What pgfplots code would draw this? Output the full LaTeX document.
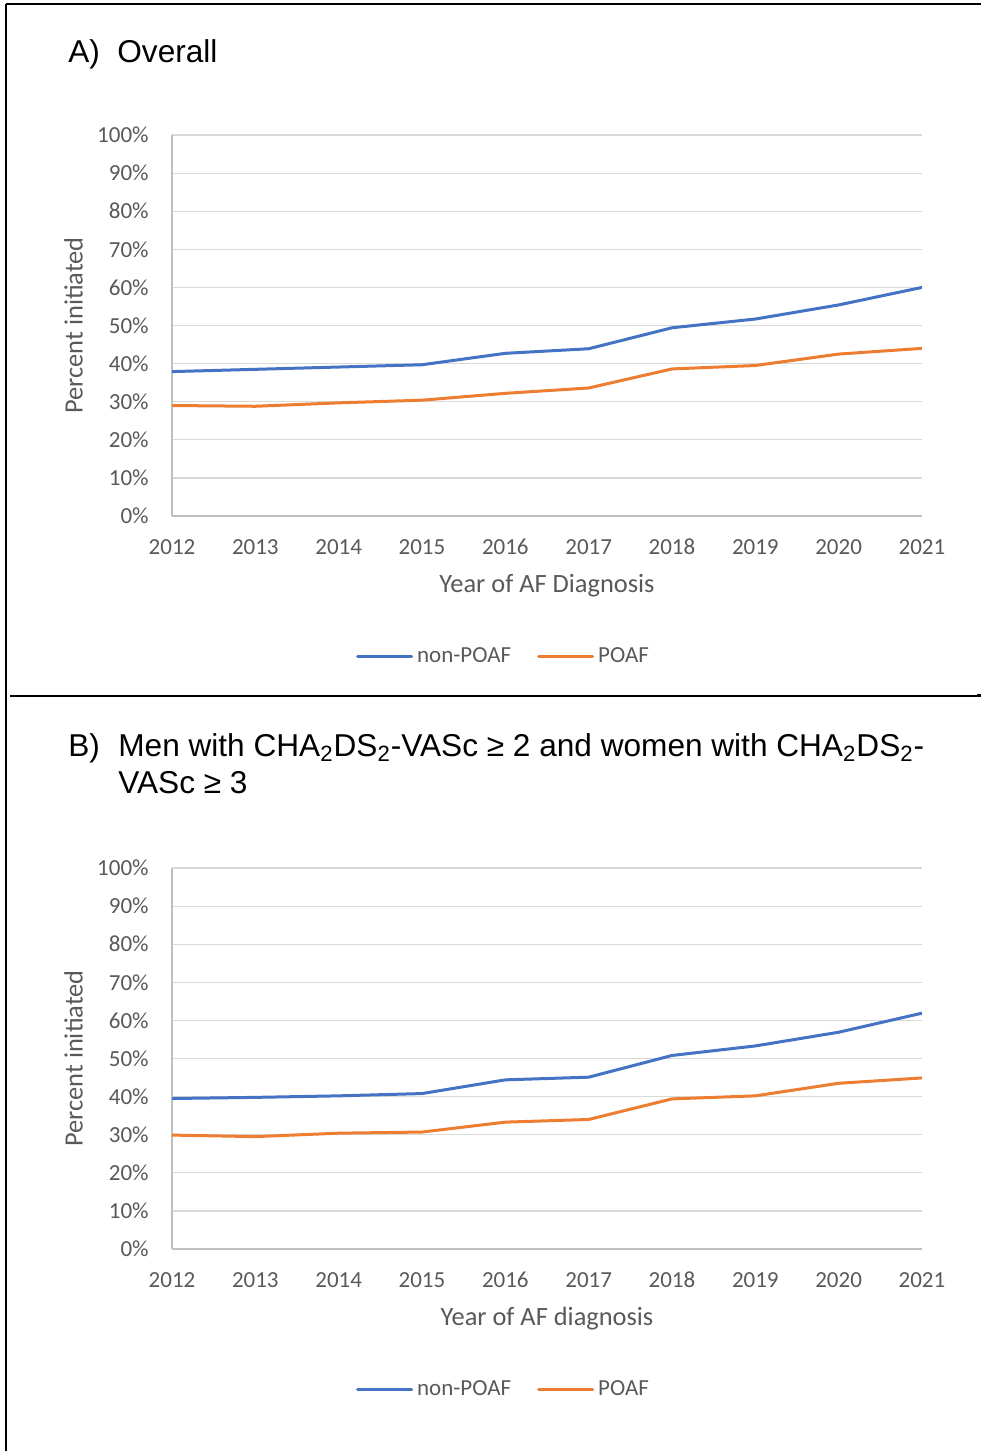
\documentclass[border=0pt]{standalone}
\usepackage{pgfplots}
\pgfplotsset{compat=1.18}
\usepackage{pgfplotstable}
\usepackage{fontspec}
\setmainfont{Carlito}
\newfontfamily\arialf{Liberation Sans}
\definecolor{cblue}{HTML}{4472C4}
\definecolor{corange}{HTML}{ED7D31}
\definecolor{tgray}{HTML}{595959}
\definecolor{ggray}{HTML}{D9D9D9}
\definecolor{agray}{HTML}{BFBFBF}

\pgfplotstableread{
year nonpoaf poaf
2012 37.9 29.0
2013 38.5 28.8
2014 39.1 29.7
2015 39.7 30.4
2016 42.7 32.2
2017 43.9 33.6
2018 49.4 38.6
2019 51.7 39.5
2020 55.4 42.5
2021 60.0 44.0
}\dataA

\pgfplotstableread{
year nonpoaf poaf
2012 39.5 29.9
2013 39.8 29.5
2014 40.2 30.4
2015 40.8 30.7
2016 44.4 33.3
2017 45.1 34.0
2018 50.8 39.4
2019 53.3 40.2
2020 56.9 43.5
2021 61.9 44.9
}\dataB

\pgfplotsset{
  myaxis/.style={
    scale only axis,
    width=375pt, height=190.5pt,
    anchor=south west,
    xmin=2012, xmax=2021,
    ymin=0, ymax=100,
    xtick={2012,2013,...,2021},
    xticklabels={2012,2013,2014,2015,2016,2017,2018,2019,2020,2021},
    ytick={0,10,...,100},
    yticklabels={0\%,10\%,20\%,30\%,40\%,50\%,60\%,70\%,80\%,90\%,100\%},
    /pgf/number format/assume math mode=true,
    axis x line*=bottom,
    axis y line*=left,
    axis line style={draw=agray, line width=0.6pt},
    major tick length=0pt,
    ymajorgrids,
    grid style={draw=ggray, line width=0.6pt},
    tick label style={font=\fontsize{11.5}{13}\selectfont, text=tgray, inner sep=0pt},
    xticklabel style={anchor=center, yshift=-15.5pt},
    yticklabel style={anchor=east, xshift=-11.5pt},
    every axis x label/.style={at={(axis description cs:0.5,-0.1837)}, anchor=center,
      font=\fontsize{13.2}{15}\selectfont, text=tgray},
    every axis y label/.style={at={(axis description cs:-0.1313,0.5)}, rotate=90, anchor=center,
      font=\fontsize{13.2}{15}\selectfont, text=tgray},
    ylabel={Percent initiated},
    legend columns=2,
    legend style={at={(axis description cs:0.4407,-0.370)}, anchor=center,
      draw=none, fill=none, inner sep=0pt,
      font=\fontsize{11.5}{13}\selectfont, text=tgray,
      nodes={inner sep=0pt},
      /tikz/every even column/.append style={column sep=13pt}},
    legend image code/.code={\draw[##1] (0pt,0pt) -- (27pt,0pt); \path (29pt,0pt);},
    every axis plot/.append style={line width=1.5pt, line join=round, line cap=round},
  }
}

\begin{document}
\begin{tikzpicture}
\useasboundingbox (0,0) rectangle (490.5pt,-725.5pt);
% borders
\draw[line width=1pt] (3.1pt,-1.85pt) -- (490.5pt,-1.85pt);
\draw[line width=1pt] (3.1pt,-1.85pt) -- (3.1pt,-725.5pt);
\draw[line width=1pt] (5pt,-348pt) -- (488.5pt,-348pt);
\draw[line width=1.6pt] (488.5pt,-347.8pt) -- (490.5pt,-347.8pt);

% titles
\node[anchor=base west, inner sep=0pt, font=\arialf\fontsize{15.8}{19}\selectfont] at (34pt,-31pt) {A)};
\node[anchor=base west, inner sep=0pt, font=\arialf\fontsize{15.8}{19}\selectfont] at (58.5pt,-31pt) {Overall};
\node[anchor=base west, inner sep=0pt, font=\arialf\fontsize{15.8}{19}\selectfont] at (34pt,-378pt) {B)};
\node[anchor=base west, inner sep=0pt, font=\arialf\fontsize{15.8}{19}\selectfont] at (59pt,-378pt) {Men with CHA\textsubscript{2}DS\textsubscript{2}-VASc ≥ 2 and women with CHA\textsubscript{2}DS\textsubscript{2}-};
\node[anchor=base west, inner sep=0pt, font=\arialf\fontsize{15.8}{19}\selectfont] at (59pt,-396.5pt) {VASc ≥ 3};

\begin{axis}[myaxis, at={(86pt,-258pt)}, xlabel={Year of AF Diagnosis}]
\addplot[cblue] table[x=year, y=nonpoaf] {\dataA};
\addlegendentry{non-POAF}
\addplot[corange] table[x=year, y=poaf] {\dataA};
\addlegendentry{POAF}
\end{axis}

\begin{axis}[myaxis, at={(86pt,-624.5pt)}, xlabel={Year of AF diagnosis}]
\addplot[cblue] table[x=year, y=nonpoaf] {\dataB};
\addlegendentry{non-POAF}
\addplot[corange] table[x=year, y=poaf] {\dataB};
\addlegendentry{POAF}
\end{axis}
\end{tikzpicture}
\end{document}
